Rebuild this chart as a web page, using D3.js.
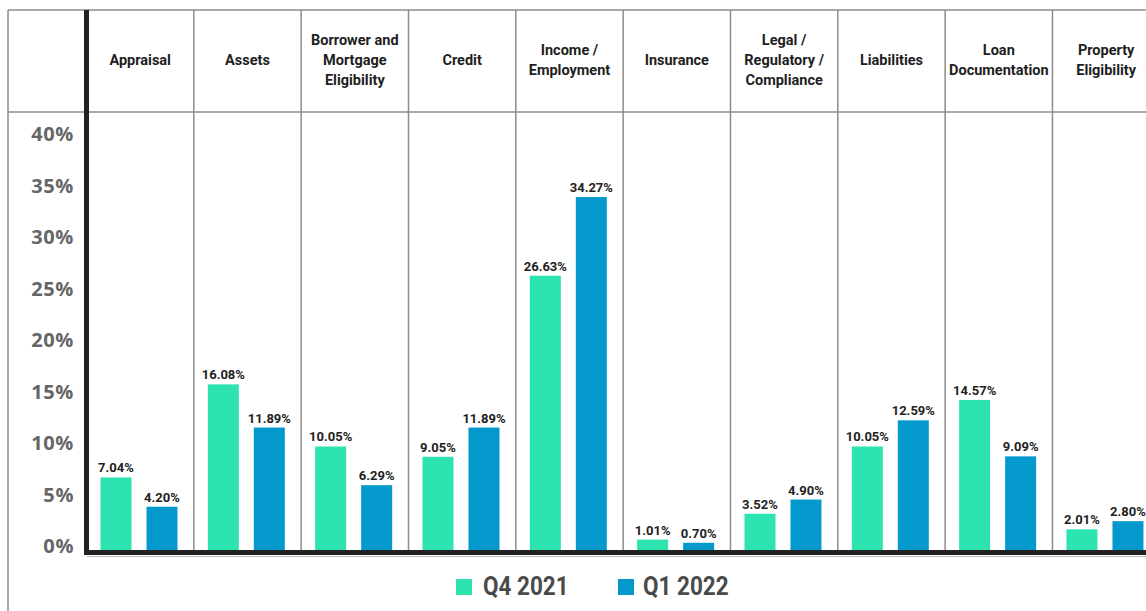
<!DOCTYPE html>
<html>
<head>
<meta charset="utf-8">
<script src="https://cdn.jsdelivr.net/npm/d3@7"></script>
<style>
  html, body { margin: 0; padding: 0; background: #fff; }
  svg { display: block; }
</style>
</head>
<body>
<div id="chart"></div>
<script>
// categories (line breaks as in the header cells)
const categories = [
  "Appraisal",
  "Assets",
  "Borrower and\nMortgage\nEligibility",
  "Credit",
  "Income /\nEmployment",
  "Insurance",
  "Legal /\nRegulatory /\nCompliance",
  "Liabilities",
  "Loan\nDocumentation",
  "Property\nEligibility"
]
const series = ["Q4 2021", "Q1 2022"]
const q4_2021 = [7.04, 16.08, 10.05, 9.05, 26.63, 1.01, 3.52, 10.05, 14.57, 2.01]
const q1_2022 = [4.20, 11.89, 6.29, 11.89, 34.27, 0.70, 4.90, 12.59, 9.09, 2.80]
const yTicks = [0, 5, 10, 15, 20, 25, 30, 35, 40]

const colours = { "Q4 2021": "#2de3b0", "Q1 2022": "#0399cd" }

const width = 1146
const height = 611

const svg = d3.select("#chart")
  .append("svg")
  .attr("width", width)
  .attr("height", height)

const leftEdge = 86.5
const colW = 107.33
const tableTop = 10
const headerBottom = 112
const base = 550

// scales
const x0 = d3.scaleBand()
  .domain(categories)
  .range([leftEdge, leftEdge + colW * categories.length])

const x1 = d3.scaleBand()
  .domain(series)
  .range([14, 91])
  .paddingInner(15 / 46)

const y = d3.scaleLinear()
  .domain([0, 40])
  .range([base, 138])

const gridColour = "#8c8c8c"

// table borders
svg.append("line")
  .attr("x1", 8).attr("x2", width)
  .attr("y1", tableTop).attr("y2", tableTop)
  .attr("stroke", gridColour).attr("stroke-width", 1.5)

svg.append("line")
  .attr("x1", 8).attr("x2", width)
  .attr("y1", headerBottom).attr("y2", headerBottom)
  .attr("stroke", gridColour).attr("stroke-width", 1.5)

svg.append("line")
  .attr("x1", 8).attr("x2", 8)
  .attr("y1", tableTop).attr("y2", height)
  .attr("stroke", gridColour).attr("stroke-width", 1.5)

// column separators
svg.selectAll(".colLine")
  .data(categories.slice(1))
  .enter()
  .append("line")
  .attr("class", "colLine")
  .attr("x1", d => x0(d)).attr("x2", d => x0(d))
  .attr("y1", tableTop).attr("y2", base + 2)
  .attr("stroke", gridColour).attr("stroke-width", 1.5)

// light line under the axis
svg.append("line")
  .attr("x1", leftEdge).attr("x2", width)
  .attr("y1", 556.5).attr("y2", 556.5)
  .attr("stroke", "#bdbdbd").attr("stroke-width", 1.2)

// header labels
const header = svg.selectAll(".header")
  .data(categories)
  .enter()
  .append("text")
  .attr("class", "header")
  .attr("text-anchor", "middle")
  .style("font-family", "Roboto, 'Liberation Sans', sans-serif")
  .style("font-weight", 700)
  .style("font-size", "14.5px")
  .style("fill", "#1e1e1e")

header.each(function (d) {
  const lines = d.split("\n")
  const cx = x0(d) + x0.bandwidth() / 2
  const lineH = 20
  const startY = 59.5 - (lines.length - 1) * lineH / 2
  d3.select(this).selectAll("tspan")
    .data(lines)
    .enter()
    .append("tspan")
    .attr("x", cx)
    .attr("y", (l, i) => startY + i * lineH)
    .attr("dy", "0.35em")
    .text(l => l)
})

// y axis labels
const yAxis = d3.axisLeft(y)
  .tickValues(yTicks)
  .tickSize(0)
  .tickPadding(0)
  .tickFormat(d => d + "%")

const gy = svg.append("g")
  .attr("transform", "translate(74,-3.5)")
  .call(yAxis)

gy.select(".domain").remove()
gy.selectAll("text")
  .style("font-family", "'Open Sans', sans-serif")
  .style("font-weight", 700)
  .style("font-size", "20px")
  .style("letter-spacing", "0.6px")
  .style("fill", "#666")

// bars
const rows = categories.map((c, i) => ({
  category: c,
  values: [
    { key: series[0], value: q4_2021[i] },
    { key: series[1], value: q1_2022[i] }
  ]
}))

const groups = svg.selectAll(".group")
  .data(rows)
  .enter()
  .append("g")
  .attr("class", "group")
  .attr("transform", d => "translate(" + x0(d.category) + ",0)")

groups.selectAll("rect")
  .data(d => d.values)
  .enter()
  .append("rect")
  .attr("x", d => x1(d.key))
  .attr("y", d => y(d.value))
  .attr("width", x1.bandwidth())
  .attr("height", d => base - y(d.value))
  .style("fill", d => colours[d.key])

groups.selectAll(".valueLabel")
  .data(d => d.values)
  .enter()
  .append("text")
  .attr("class", "valueLabel")
  .attr("x", d => x1(d.key) + x1.bandwidth() / 2)
  .attr("y", d => y(d.value) - 5)
  .attr("text-anchor", "middle")
  .style("font-family", "Roboto, 'Liberation Sans', sans-serif")
  .style("font-weight", 700)
  .style("font-size", "13px")
  .style("fill", "#222")
  .text(d => d.value.toFixed(2) + "%")

// thick axes
svg.append("line")
  .attr("x1", leftEdge).attr("x2", leftEdge)
  .attr("y1", tableTop).attr("y2", base + 5)
  .attr("stroke", "#222").attr("stroke-width", 5)

svg.append("line")
  .attr("x1", leftEdge - 2.5).attr("x2", width)
  .attr("y1", base + 2.5).attr("y2", base + 2.5)
  .attr("stroke", "#222").attr("stroke-width", 5)

// legend
const legendX = [456, 618]
const legend = svg.selectAll(".legend")
  .data(series)
  .enter()
  .append("g")
  .attr("class", "legend")
  .attr("transform", (d, i) => "translate(" + legendX[i] + ",579)")

legend.append("rect")
  .attr("width", 16)
  .attr("height", 16)
  .style("fill", d => colours[d])

legend.append("text")
  .attr("transform", (d, i) => "translate(" + (i === 0 ? 27 : 25) + ",16) scale(0.9,1)")
  .style("font-family", "Roboto, sans-serif")
  .style("font-weight", 700)
  .style("font-size", "25px")
  .style("fill", "#4a4a4a")
  .text(d => d)
</script>
</body>
</html>
